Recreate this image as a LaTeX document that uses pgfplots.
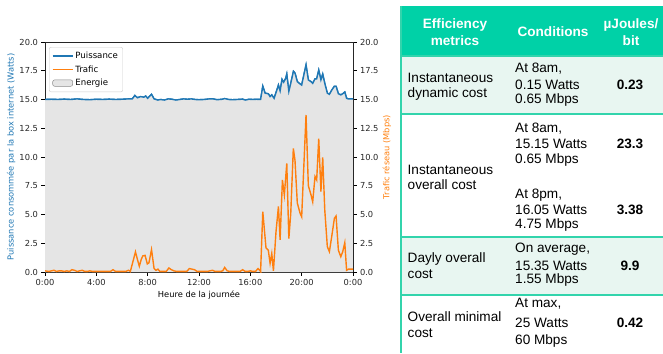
\documentclass[border=0pt]{standalone}
\usepackage{fontspec}
\setmainfont{DejaVu Sans}
\newfontfamily\arial{Liberation Sans}
\usepackage{pgfplots}
\pgfplotsset{compat=1.18}

\definecolor{tabblue}{RGB}{31,119,180}
\definecolor{taborange}{RGB}{255,127,14}
\definecolor{energy}{RGB}{229,229,229}
\definecolor{hdr}{RGB}{0,209,167}
\definecolor{mint}{RGB}{232,246,241}
\definecolor{bord}{RGB}{50,212,172}

\tikzset{
  powerline/.style={color=tabblue, line width=1.4pt},
  trafficline/.style={color=taborange, line width=1.4pt},
}

% Power drawn by the box (W), hour of day
\newcommand{\powerdata}{
(0,15.0) (0.5,15.02) (1,15.0) (1.5,15.03) (2,15.0) (2.5,15.05) (3,15.0) (3.5,14.98)
(4,15.02) (4.5,15.0) (5,15.03) (5.5,15.0) (6,15.02) (6.5,15.05) (6.8,15.05) (7.0,15.35)
(7.2,15.15) (7.45,15.25) (7.7,15.2) (7.85,15.3) (8.0,15.1) (8.3,15.45) (8.5,15.05)
(8.8,14.95) (9.0,15.0) (9.3,14.95) (9.6,15.05) (9.9,15.02) (10.2,14.95) (10.5,15.0)
(10.8,15.05) (11.1,15.02) (11.4,15.05) (11.7,15.0) (12.0,14.98) (12.4,15.0) (12.8,15.05)
(13.1,15.05) (13.4,14.98) (13.8,15.02) (14.0,15.08) (14.3,15.0) (14.6,14.98) (15.0,15.0)
(15.4,15.03) (15.6,14.95) (15.9,15.02) (16.2,15.0) (16.5,15.02) (16.8,15.0) (16.97,16.15)
(17.15,15.55) (17.4,15.5) (17.54,15.25) (17.67,15.4) (17.85,15.1) (18.06,15.8) (18.19,16.25)
(18.32,15.75) (18.47,16.75) (18.6,16.5) (18.76,16.85) (18.84,17.2) (19.0,15.7) (19.15,16.4)
(19.36,17.45) (19.48,17.3) (19.66,16.55) (19.88,16.35) (20.0,16.25) (20.34,18.0) (20.52,16.7)
(20.73,16.55) (20.86,16.4) (21.04,16.8) (21.17,16.8) (21.33,17.55) (21.5,16.7) (21.64,17.2)
(21.8,16.4) (22.0,15.55) (22.16,15.45) (22.34,15.8) (22.55,16.15) (22.68,16.15) (22.86,15.5)
(23.05,15.4) (23.2,15.5) (23.36,15.65) (23.5,15.1) (23.65,15.05) (24.0,15.05)
}

% Network traffic (Mbps), hour of day
\newcommand{\trafficdata}{
(0,0.1) (0.3,0.05) (0.5,0.1) (0.7,0.15) (0.9,0.05) (1.1,0.1) (1.3,0.1) (1.5,0.05) (1.7,0.1)
(1.9,0.05) (2.1,0.2) (2.3,0.15) (2.5,0.05) (2.7,0.1) (2.9,0.15) (3.1,0.05) (3.3,0.05)
(3.5,0.1) (3.7,0.05) (3.9,0.05) (4.1,0.05) (4.3,0.05) (4.5,0.05) (4.7,0.05) (4.9,0.05)
(5.1,0.05) (5.3,0.2) (5.5,0.05) (5.7,0.05) (5.9,0.05) (6.1,0.05) (6.3,0.05) (6.5,0.15)
(6.65,0.05) (7.05,1.75) (7.2,1.1) (7.35,0.5) (7.5,1.1) (7.62,1.4) (7.8,1.45) (7.97,0.7)
(8.1,0.8) (8.3,1.95) (8.5,0.3) (8.65,0.15) (8.8,0.25) (8.95,0.05) (9.25,0.05) (9.45,0.05)
(9.65,0.35) (9.85,0.2) (10.05,0.1) (10.25,0.05) (10.45,0.05) (10.65,0.05) (10.85,0.05)
(11.05,0.05) (11.25,0.3) (11.45,0.25) (11.65,0.2) (11.85,0.05) (12.05,0.05) (12.25,0.05)
(12.45,0.05) (12.65,0.05) (12.85,0.1) (13.05,0.15) (13.25,0.05) (13.45,0.05) (13.65,0.05)
(13.85,0.1) (14.0,0.4) (14.2,0.1) (14.4,0.05) (14.6,0.05) (14.8,0.05) (15.0,0.05) (15.2,0.05)
(15.4,0.2) (15.6,0.05) (15.8,0.05) (16.0,0.1) (16.2,0.05) (16.4,0.05) (16.6,0.3) (16.8,0.05)
(16.97,5.25) (17.22,2.1) (17.4,1.9) (17.54,0.75) (17.67,1.6) (17.8,0.1) (18.0,3.5)
(18.19,5.7) (18.32,2.8) (18.5,8.0) (18.65,6.7) (18.84,9.45) (19.0,2.9) (19.15,5.1)
(19.35,10.75) (19.48,9.7) (19.66,6.0) (19.88,5.1) (20.0,4.8) (20.34,13.65) (20.52,7.5)
(20.73,6.7) (20.86,6.1) (21.04,8.3) (21.17,8.0) (21.33,11.6) (21.5,7.0) (21.64,9.97)
(21.8,5.4) (22.0,2.2) (22.16,1.77) (22.34,3.07) (22.55,4.67) (22.68,4.87) (22.86,1.9)
(23.05,1.33) (23.2,1.77) (23.36,2.55) (23.5,0.15) (23.65,0.25) (23.85,0.25) (24.0,0.25)
}

\pgfplotsset{
  common/.style={
    at={(45pt,-272pt)}, anchor=south west,
    width=308pt, height=230pt, scale only axis,
    xmin=0, xmax=24, ymin=0, ymax=20,
    ytick={0,2.5,...,20},
    tick align=outside, major tick length=3.5pt,
    every tick/.style={black, line width=0.6pt},
    axis line style={black!85, line width=0.6pt},
    tick label style={font=\fontsize{8.3}{10}\selectfont, black!85},
    label style={font=\fontsize{8.3}{10}\selectfont},
    /pgf/number format/assume math mode=true,
    yticklabel style={/pgf/number format/.cd, fixed, fixed zerofill, precision=1},
  },
}

\begin{document}
\begin{tikzpicture}
\useasboundingbox (0,0) rectangle (663pt,-353pt);

% left axis: legend, energy area and power
\begin{axis}[common,
  xtick={0,4,...,24},
  xticklabels={0:00,4:00,8:00,12:00,16:00,20:00,0:00},
  xtick pos=left, ytick pos=left,
  xlabel={Heure de la journée},
  xlabel style={at={(axis description cs:0.5,-0.1)}, anchor=center},
  ylabel={Puissance consommée par la box internet (Watts)},
  ylabel style={at={(axis description cs:-0.11,0.5)}, anchor=center, text=tabblue},
  legend style={at={(0,1)}, anchor=north west, xshift=4pt, yshift=-5pt,
    draw=black!20, rounded corners=2pt, fill=white,
    font=\fontsize{8.6}{10}\selectfont, row sep=1.5pt, inner sep=2.8pt},
  legend cell align=left,
]
  \addplot[powerline,
    legend image code/.code={\draw[powerline] (0pt,0pt) -- (20pt,0pt);}]
    coordinates {\powerdata};
  \addlegendentry{Puissance}
  \addplot[trafficline,
    legend image code/.code={\draw[trafficline] (0pt,0pt) -- (20pt,0pt);}]
    coordinates {\trafficdata};
  \addlegendentry{Trafic}
  \addplot[fill=energy, draw=none,
    legend image code/.code={\draw[fill=energy, draw=black!45, line width=0.5pt] (0pt,-3.2pt) rectangle (20pt,3.2pt);}]
    coordinates {\powerdata} \closedcycle;
  \addlegendentry{Energie}
\end{axis}

% right axis: traffic on its own scale, power redrawn over the area
\begin{axis}[common,
  hide x axis,
  axis y line*=right,
  ylabel={Trafic réseau (Mbps)},
  ylabel style={at={(axis description cs:1.11,0.5)}, anchor=center, text=taborange},
]
  \addplot[powerline] coordinates {\powerdata};
  \addplot[trafficline] coordinates {\trafficdata};
\end{axis}

% efficiency table
\fill[hdr] (401pt,-6pt) rectangle (663pt,-56pt);
\fill[mint] (401pt,-56pt) rectangle (663pt,-114pt);
\fill[mint] (401pt,-237pt) rectangle (663pt,-295pt);
\draw[bord, line width=1.3pt] (401pt,-6pt) -- (401pt,-353pt);
\foreach \yy in {56,114,237,295}{
  \draw[bord, line width=1.3pt] (401pt,-\yy pt) -- (663pt,-\yy pt);
}

\begin{scope}[every node/.style={inner sep=0pt, font=\arial\fontsize{13.6}{16}\selectfont}]
  % header
  \node[white, font=\arial\bfseries\fontsize{13.6}{16}\selectfont] at (455pt,-25pt) {Efficiency};
  \node[white, font=\arial\bfseries\fontsize{13.6}{16}\selectfont] at (455pt,-41pt) {metrics};
  \node[white, font=\arial\bfseries\fontsize{13.6}{16}\selectfont] at (553pt,-32pt) {Conditions};
  \node[white, font=\arial\bfseries\fontsize{13.6}{16}\selectfont] at (631pt,-25pt) {µJoules/};
  \node[white, font=\arial\bfseries\fontsize{13.6}{16}\selectfont] at (631pt,-41pt) {bit};
  % row 1
  \node[anchor=west] at (407.5pt,-78pt) {Instantaneous};
  \node[anchor=west] at (407.5pt,-94pt) {dynamic cost};
  \node[anchor=west] at (515pt,-68.5pt) {At 8am,};
  \node[anchor=west] at (515pt,-84.5pt) {0.15 Watts};
  \node[anchor=west] at (515pt,-100pt) {0.65 Mbps};
  \node[font=\arial\bfseries\fontsize{13.6}{16}\selectfont] at (630pt,-84.5pt) {0.23};
  % row 2
  \node[anchor=west] at (407.5pt,-169.5pt) {Instantaneous};
  \node[anchor=west] at (407.5pt,-185pt) {overall cost};
  \node[anchor=west] at (515pt,-128.5pt) {At 8am,};
  \node[anchor=west] at (515pt,-143.5pt) {15.15 Watts};
  \node[anchor=west] at (515pt,-159.5pt) {0.65 Mbps};
  \node[font=\arial\bfseries\fontsize{13.6}{16}\selectfont] at (630pt,-143.5pt) {23.3};
  \node[anchor=west] at (515pt,-195pt) {At 8pm,};
  \node[anchor=west] at (515pt,-210pt) {16.05 Watts};
  \node[anchor=west] at (515pt,-224.5pt) {4.75 Mbps};
  \node[font=\arial\bfseries\fontsize{13.6}{16}\selectfont] at (630pt,-210pt) {3.38};
  % row 3
  \node[anchor=west] at (407.5pt,-258.5pt) {Dayly overall};
  \node[anchor=west] at (407.5pt,-274pt) {cost};
  \node[anchor=west] at (515pt,-249.5pt) {On average,};
  \node[anchor=west] at (515pt,-265.5pt) {15.35 Watts};
  \node[anchor=west] at (515pt,-280pt) {1.55 Mbps};
  \node[font=\arial\bfseries\fontsize{13.6}{16}\selectfont] at (630pt,-266pt) {9.9};
  % row 4
  \node[anchor=west] at (407.5pt,-316.5pt) {Overall minimal};
  \node[anchor=west] at (407.5pt,-333pt) {cost};
  \node[anchor=west] at (515pt,-304pt) {At max,};
  \node[anchor=west] at (515pt,-323pt) {25 Watts};
  \node[anchor=west] at (515pt,-341pt) {60 Mbps};
  \node[font=\arial\bfseries\fontsize{13.6}{16}\selectfont] at (630pt,-323pt) {0.42};
\end{scope}
\end{tikzpicture}
\end{document}
